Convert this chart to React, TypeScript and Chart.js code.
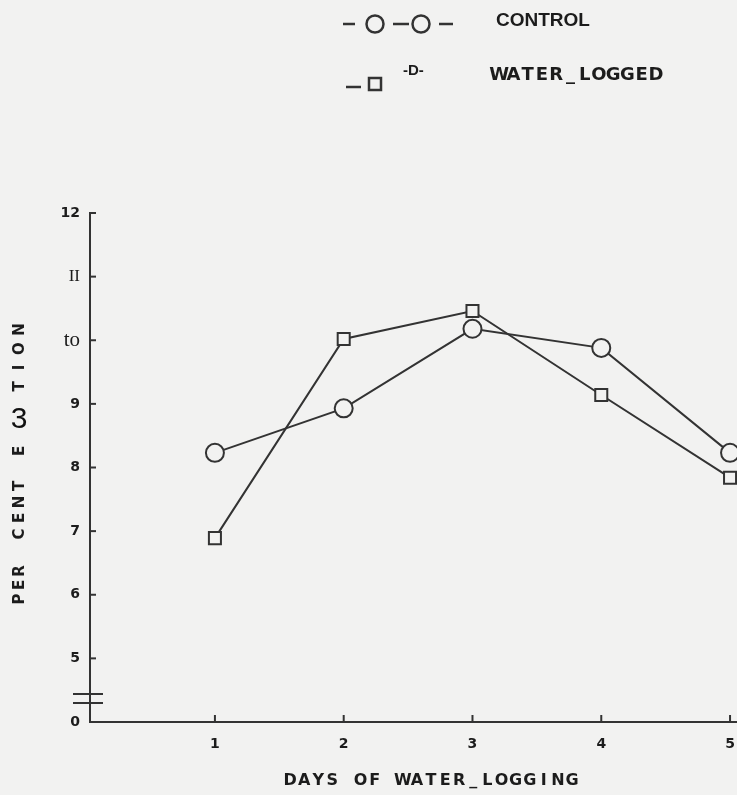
import React, { useEffect, useRef } from "react";
import { Chart, registerables } from "chart.js";

Chart.register(...registerables);

// ---- data ----
const days = [1, 2, 3, 4, 5];
const xTickLabels = ["1", "2", "3", "4", "5"];
const controlValues = [8.23, 8.93, 10.18, 9.88, 8.23];
const waterLoggedValues = [6.89, 10.02, 10.46, 9.14, 7.84];
const yTickValues = [4, 5, 6, 7, 8, 9, 10, 11, 12];
const yTickLabels = ["0", "5", "6", "7", "8", "9", "to", "II", "12"];
const seriesNames = ["CONTROL", "WATER_LOGGED"];
const legendExtraText = "-D-";
const xTitle = "DAYS OF WATER_LOGGING";
const yTitleWords = ["PER", "CENT", "E", "TION"];
const yTitleStray = "3";

const INK = "#333333";
const TEXT = "#1c1c1c";
const PAPER = "#f2f2f1";

function spacedText(ctx: CanvasRenderingContext2D, text: string, x0: number, y: number, adv: number) {
  ctx.textAlign = "center";
  for (let i = 0; i < text.length; i++) {
    ctx.fillText(text[i], x0 + adv * (i + 0.5), y);
  }
}

const decorPlugin = {
  id: "paperDecor",
  beforeDraw(chart: any) {
    const ctx = chart.ctx;
    ctx.save();
    ctx.fillStyle = PAPER;
    ctx.fillRect(0, 0, chart.width, chart.height);
    ctx.restore();
  },
  afterDraw(chart: any) {
    const ctx: CanvasRenderingContext2D = chart.ctx;
    const xs = chart.scales.x;
    const ys = chart.scales.y;
    const area = chart.chartArea;
    ctx.save();
    ctx.strokeStyle = INK;
    ctx.fillStyle = TEXT;
    ctx.lineWidth = 2;
    ctx.lineCap = "butt";

    // inside tick marks on x axis
    days.forEach((d) => {
      const px = xs.getPixelForValue(d);
      ctx.beginPath();
      ctx.moveTo(px, area.bottom);
      ctx.lineTo(px, area.bottom - 7);
      ctx.stroke();
    });
    // inside tick marks on y axis
    yTickValues.slice(1).forEach((v) => {
      const py = ys.getPixelForValue(v);
      ctx.beginPath();
      ctx.moveTo(area.left, py);
      ctx.lineTo(area.left + 6, py);
      ctx.stroke();
    });

    // axis break marks
    const b1 = ys.getPixelForValue(4.44);
    const b2 = ys.getPixelForValue(4.3);
    ctx.beginPath();
    ctx.moveTo(area.left - 17, b1);
    ctx.lineTo(area.left + 13, b1);
    ctx.moveTo(area.left - 17, b2);
    ctx.lineTo(area.left + 13, b2);
    ctx.stroke();

    // legend
    const names = chart.data.datasets.map((d: any) => d.label);
    ctx.lineWidth = 2.5;
    const r1 = 24;
    [[343, 355], [393, 409], [439, 453]].forEach(([a, b]) => {
      ctx.beginPath();
      ctx.moveTo(a, r1);
      ctx.lineTo(b, r1);
      ctx.stroke();
    });
    [375, 421].forEach((cx) => {
      ctx.beginPath();
      ctx.arc(cx, r1, 8.5, 0, Math.PI * 2);
      ctx.stroke();
    });
    ctx.font = "bold 19px 'Liberation Sans', Arial, sans-serif";
    ctx.textAlign = "left";
    ctx.textBaseline = "middle";
    ctx.fillText(names[0], 496, 21);
    ctx.beginPath();
    ctx.moveTo(346, 87);
    ctx.lineTo(361, 87);
    ctx.stroke();
    ctx.strokeRect(369, 78, 12, 12);
    ctx.font = "bold 15px 'Liberation Sans', Arial, sans-serif";
    ctx.textAlign = "left";
    ctx.fillText(legendExtraText, 403, 71);
    ctx.font = "bold 18px 'DejaVu Sans', sans-serif";
    spacedText(ctx, names[1], 492, 75, 14.25);

    // x axis title
    ctx.font = "bold 16px 'DejaVu Sans', sans-serif";
    ctx.textBaseline = "middle";
    spacedText(ctx, xTitle, 283, 781, 14.1);

    // y axis title (rotated)
    ctx.font = "bold 15px 'DejaVu Sans', sans-serif";
    const wordPos: [string, number, number][] = [
      [yTitleWords[0], 585, 14],
      [yTitleWords[1], 510, 16],
      [yTitleWords[2], 451, 14],
      [yTitleWords[3], 358, 19],
    ];
    wordPos.forEach(([w, cy, adv]) => {
      ctx.save();
      ctx.translate(20, cy);
      ctx.rotate(-Math.PI / 2);
      spacedText(ctx, w, -(w.length * adv) / 2, 0, adv);
      ctx.restore();
    });
    ctx.font = "30px 'Liberation Sans', Arial, sans-serif";
    ctx.textAlign = "center";
    ctx.fillStyle = "#111";
    ctx.fillText(yTitleStray, 19, 420);

    ctx.restore();
  },
};

export default function App() {
  const ref = useRef<HTMLCanvasElement | null>(null);
  useEffect(() => {
    if (!ref.current) return;
    const chart = new Chart(ref.current, {
      type: "line",
      data: {
        datasets: [
          {
            label: seriesNames[0],
            data: days.map((d, i) => ({ x: d, y: controlValues[i] })),
            borderColor: INK,
            borderWidth: 2,
            pointStyle: "circle",
            pointRadius: 9,
            pointBorderWidth: 2,
            pointBorderColor: INK,
            pointBackgroundColor: PAPER,
            clip: false,
          },
          {
            label: seriesNames[1],
            data: days.map((d, i) => ({ x: d, y: waterLoggedValues[i] })),
            borderColor: INK,
            borderWidth: 2,
            pointStyle: "rect",
            pointRadius: 8.5,
            pointBorderWidth: 2,
            pointBorderColor: INK,
            pointBackgroundColor: PAPER,
            clip: false,
          },
        ],
      },
      options: {
        animation: false,
        responsive: false,
        layout: { autoPadding: false, padding: { top: 213, right: 0, left: 0, bottom: 0 } },
        plugins: { legend: { display: false }, tooltip: { enabled: false } },
        scales: {
          x: {
            type: "linear",
            min: 0.03,
            max: 5.054,
            afterBuildTicks: (s: any) => {
              s.ticks = days.map((v) => ({ value: v }));
            },
            afterFit: (s: any) => {
              s.height = 73;
              s.paddingLeft = 0;
              s.paddingRight = 0;
            },
            grid: { display: true, drawOnChartArea: false, drawTicks: false },
            border: { display: true, color: INK, width: 2 },
            ticks: {
              padding: 14,
              color: TEXT,
              font: { family: "'DejaVu Sans', sans-serif", weight: "bold", size: 14 },
              callback: (v: any) => {
                const i = days.indexOf(Number(v));
                return i >= 0 ? xTickLabels[i] : "";
              },
            },
          },
          y: {
            type: "linear",
            min: 4,
            max: 12,
            afterBuildTicks: (s: any) => {
              s.ticks = yTickValues.map((v) => ({ value: v }));
            },
            afterFit: (s: any) => {
              s.width = 90;
              s.paddingTop = 0;
              s.paddingBottom = 0;
            },
            grid: { display: true, drawOnChartArea: false, drawTicks: false },
            border: { display: true, color: INK, width: 2 },
            ticks: {
              padding: 10,
              color: TEXT,
              font: (c: any) => {
                const v = c.tick ? c.tick.value : 0;
                if (v === 10) return { family: "'Liberation Serif', serif", size: 21, weight: "normal" };
                if (v === 11) return { family: "'Liberation Serif', serif", size: 17, weight: "normal" };
                return { family: "'DejaVu Sans', sans-serif", size: 14, weight: "bold" };
              },
              callback: (v: any) => {
                const i = yTickValues.indexOf(Number(v));
                return i >= 0 ? yTickLabels[i] : "";
              },
            },
          },
        },
      },
      plugins: [decorPlugin],
    } as any);
    return () => chart.destroy();
  }, []);
  return (
    <div style={{ position: "absolute", left: 0, top: 0, width: 737, height: 795 }}>
      <canvas ref={ref} width={737} height={795} />
    </div>
  );
}
